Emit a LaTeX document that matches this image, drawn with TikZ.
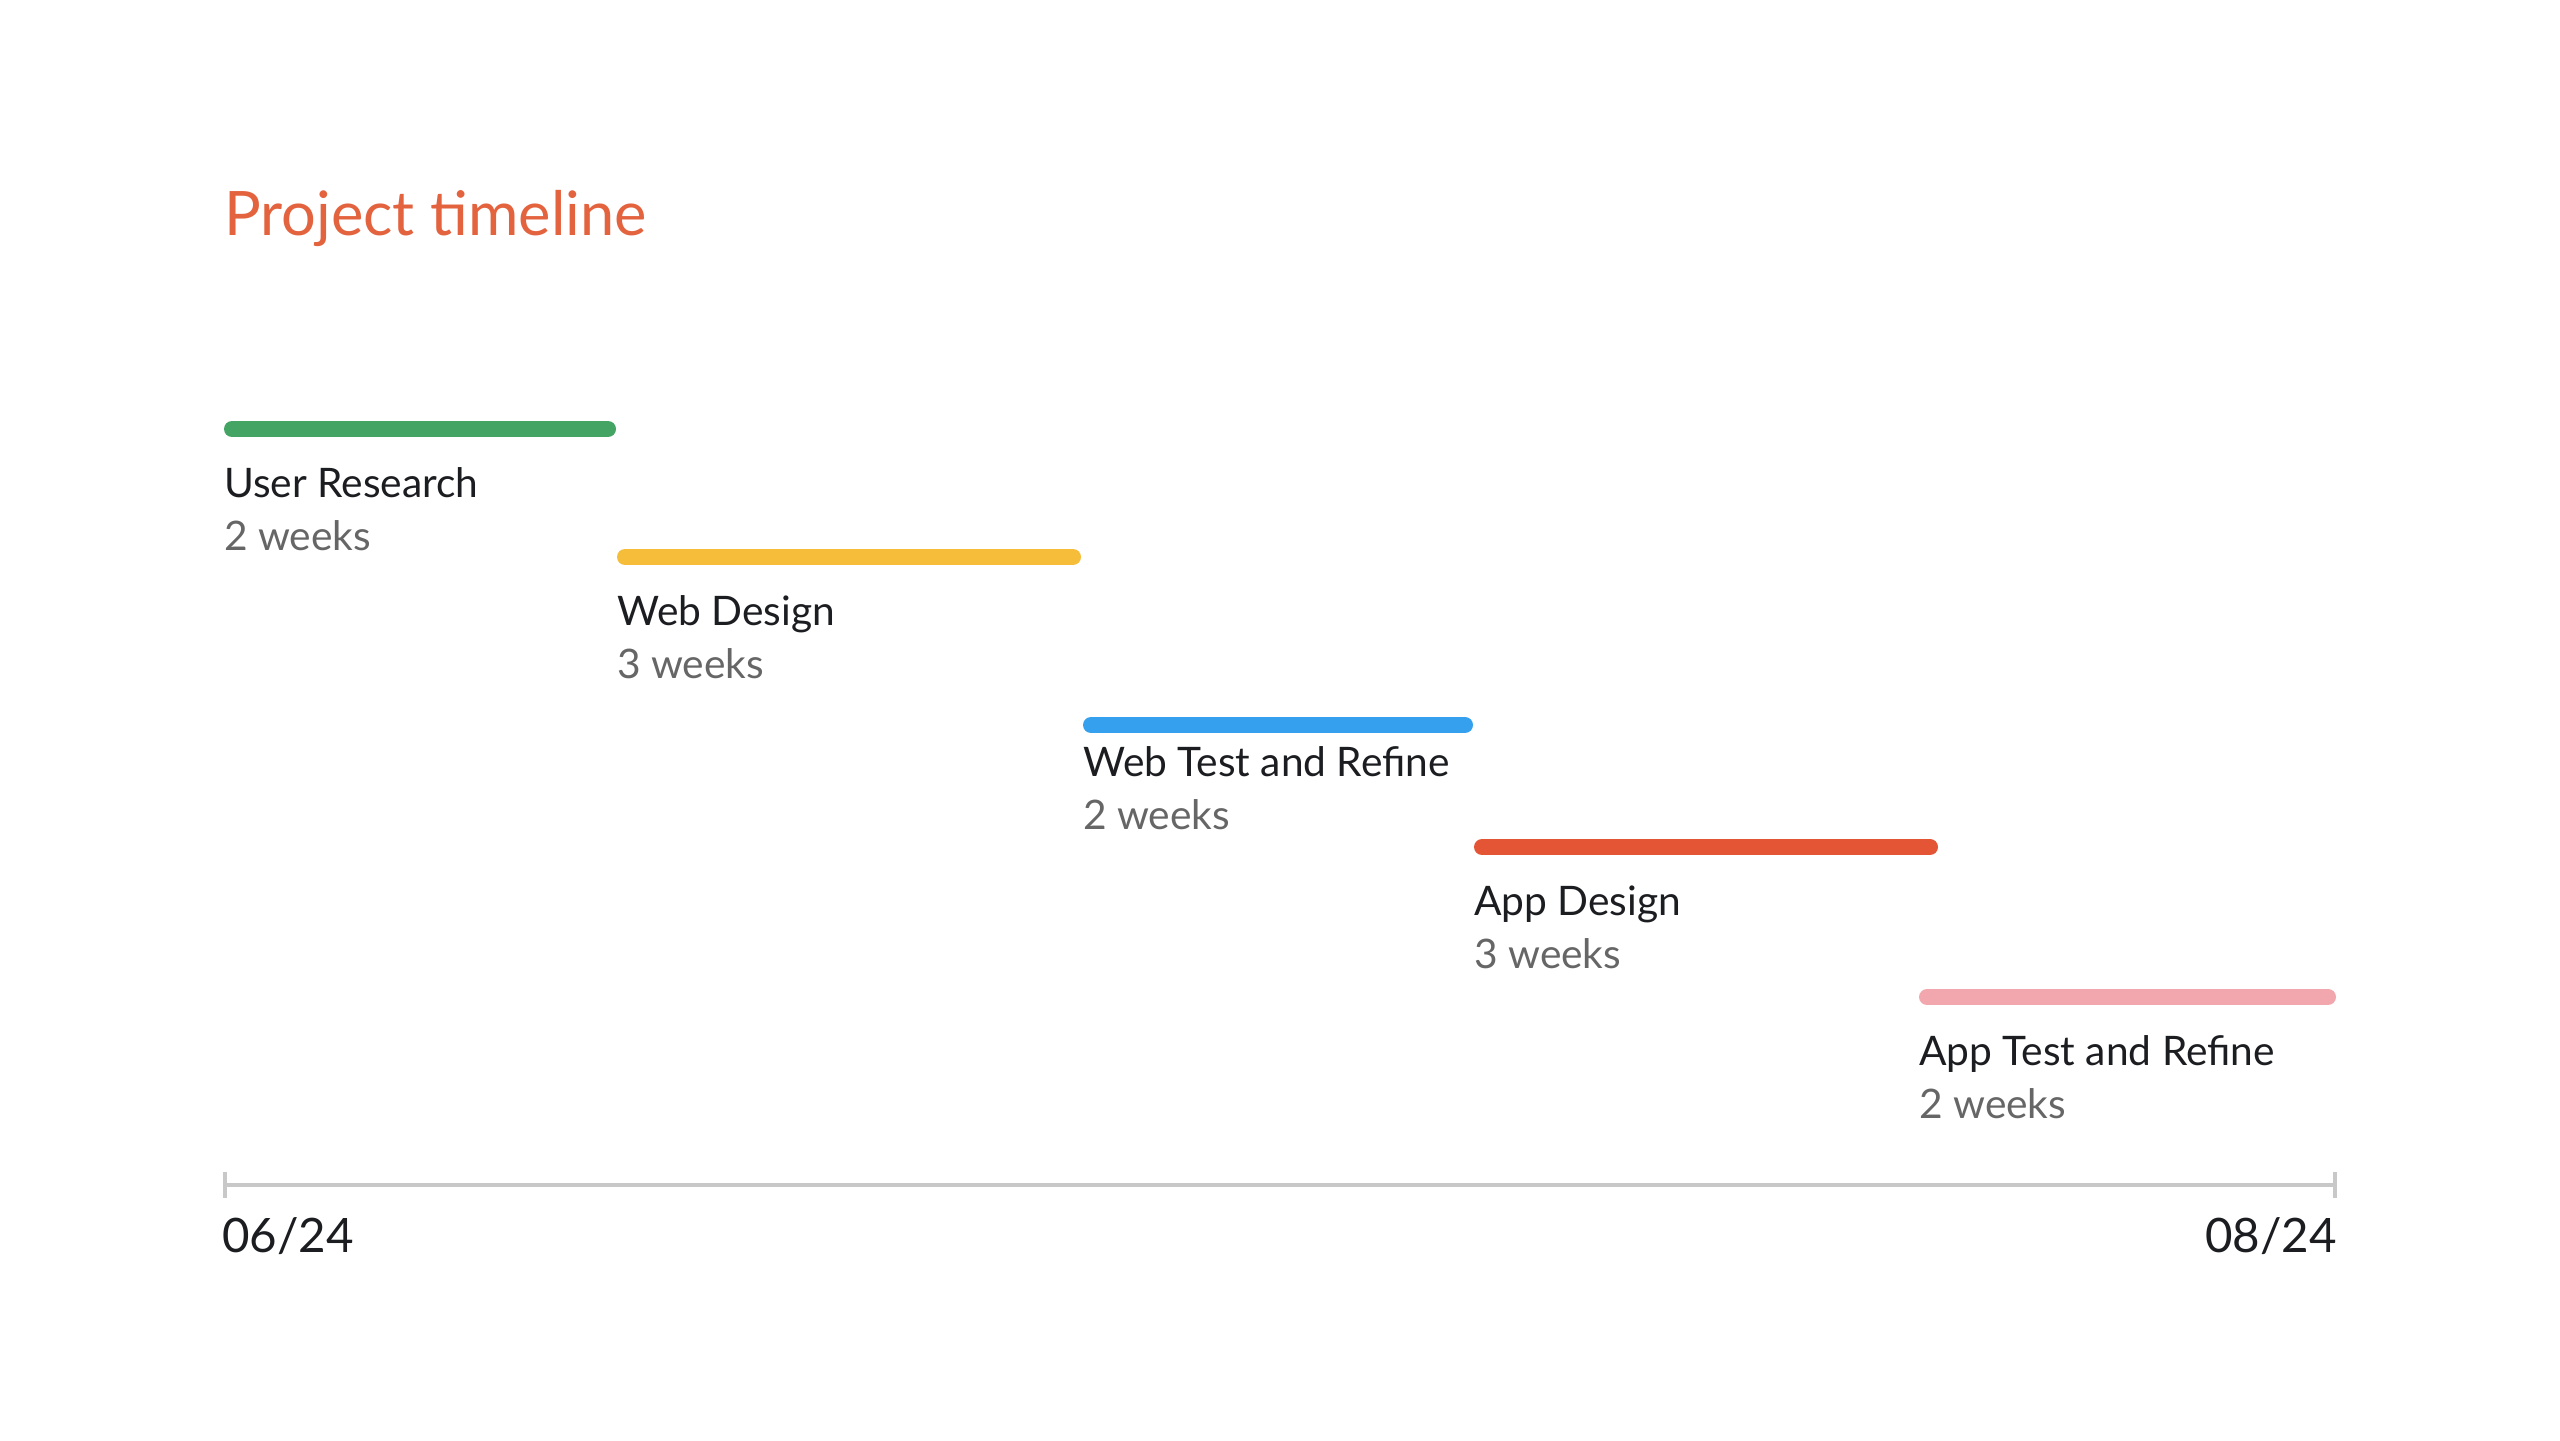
\documentclass[tikz,border=0pt]{standalone}
\usepackage{fontspec}
\setmainfont{Lato}
\definecolor{titleorange}{HTML}{E4633F}
\definecolor{barGreen}{HTML}{43A464}
\definecolor{barYellow}{HTML}{F5BD3A}
\definecolor{barBlue}{HTML}{35A0EE}
\definecolor{barRed}{HTML}{E35535}
\definecolor{barPink}{HTML}{F2A7AE}
\definecolor{labelInk}{HTML}{1C1D21}
\definecolor{durInk}{HTML}{666666}
\definecolor{axisGray}{HTML}{C8C8C8}
\begin{document}
\begin{tikzpicture}[x=0.75pt, y=-0.75pt,
  taskbar/.style={line width=12pt, line cap=round},
  tasklabel/.style={anchor=base west, inner sep=0pt, text=labelInk, font=\fontsize{30.5pt}{36pt}\selectfont},
  taskdur/.style={anchor=base west, inner sep=0pt, text=durInk, font=\fontsize{30.5pt}{36pt}\selectfont},
  datelabel/.style={inner sep=0pt, text=labelInk, font=\fontsize{35.6pt}{40pt}\selectfont},
  axisline/.style={draw=axisGray, line width=3pt}]
\useasboundingbox[fill=white] (0,0) rectangle (2560,1440);

% title
\node[anchor=base west, inner sep=0pt, text=titleorange, font=\fontsize{46pt}{54pt}\selectfont] (title) at (224,235) {Project timeline};

% task bars
\coordinate (g1) at (232,429); \coordinate (g2) at (608,429);
\coordinate (y1) at (625,557); \coordinate (y2) at (1073,557);
\coordinate (b1) at (1091,725); \coordinate (b2) at (1465,725);
\coordinate (r1) at (1482,847); \coordinate (r2) at (1930,847);
\coordinate (p1) at (1927,997); \coordinate (p2) at (2328,997);
\draw[taskbar, barGreen] (g1) -- (g2);
\draw[taskbar, barYellow] (y1) -- (y2);
\draw[taskbar, barBlue] (b1) -- (b2);
\draw[taskbar, barRed] (r1) -- (r2);
\draw[taskbar, barPink] (p1) -- (p2);

% task labels
\node[tasklabel] (t1) at (224,497) {User Research};
\node[taskdur] (d1) at (224,550) {2 weeks};
\node[tasklabel] (t2) at (617,625) {Web Design};
\node[taskdur] (d2) at (617,678) {3 weeks};
\node[tasklabel] (t3) at (1083,776) {Web Test and Refine};
\node[taskdur] (d3) at (1083,829) {2 weeks};
\node[tasklabel] (t4) at (1474,915) {App Design};
\node[taskdur] (d4) at (1474,968) {3 weeks};
\node[tasklabel] (t5) at (1919,1065) {App Test and Refine};
\node[taskdur] (d5) at (1919,1118) {2 weeks};

% time axis
\coordinate (a1) at (225,1185); \coordinate (a2) at (2335,1185);
\draw[axisline] (a1) -- (a2);
\draw[axisline] ([yshift=13*0.75pt]a1) -- ([yshift=-13*0.75pt]a1);
\draw[axisline] ([yshift=13*0.75pt]a2) -- ([yshift=-13*0.75pt]a2);
\node[datelabel, anchor=base west] (start) at (222,1252) {06/24};
\node[datelabel, anchor=base east] (end) at (2337,1252) {08/24};
\end{tikzpicture}
\end{document}
